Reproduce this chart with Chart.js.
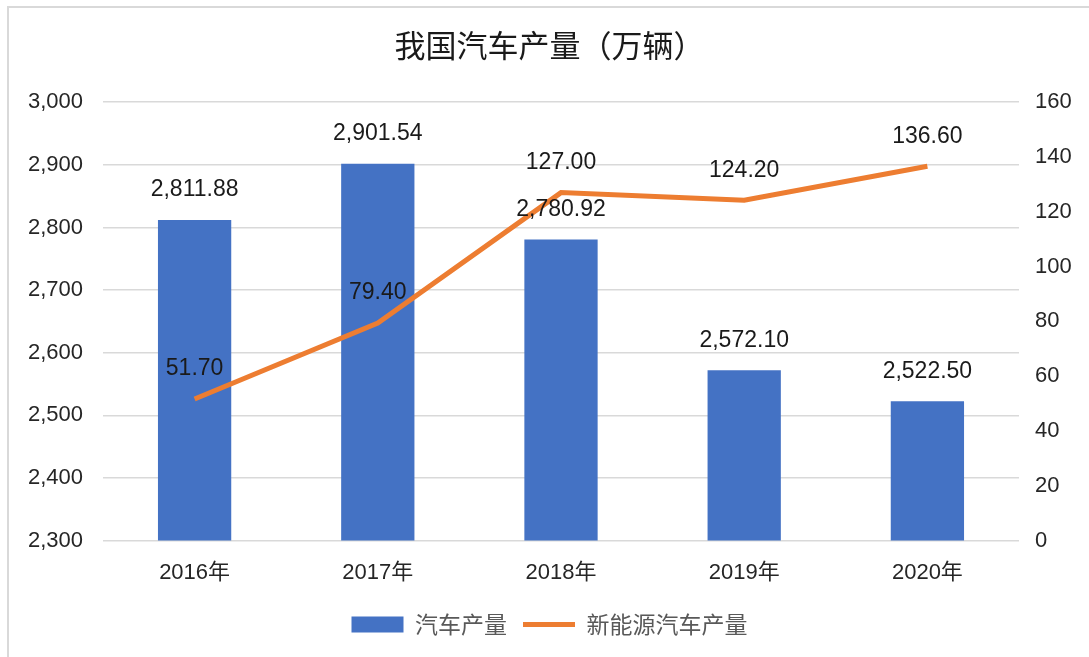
<!DOCTYPE html>
<html>
<head>
<meta charset="utf-8">
<script src="https://cdn.jsdelivr.net/npm/chart.js@4"></script>
<style>
  html, body { margin: 0; padding: 0; background: #fff; }
  #wrap { position: relative; width: 1089px; height: 657px; overflow: hidden; }
  #frame { position: absolute; left: 7px; top: 6px; width: 1100px; height: 700px;
           border-left: 2px solid #d9d9d9; border-top: 2px solid #d9d9d9; }
  canvas { position: absolute; left: 0; top: 0; }
</style>
</head>
<body>
<div id="wrap">
  <div id="frame"></div>
  <canvas id="chartCanvas" width="1089" height="657"></canvas>
</div>
<script>
const years = ['2016年', '2017年', '2018年', '2019年', '2020年'];
const carOutput = [2811.88, 2901.54, 2780.92, 2572.10, 2522.50];
const nevOutput = [51.70, 79.40, 127.00, 124.20, 136.60];
const leftTicks = [2300, 3000, 100];
const rightTicks = [0, 160, 20];

const baseFont = "'Liberation Sans', Arial, 'Noto Sans CJK SC', sans-serif";
const cjkFont = "'Noto Sans CJK SC', 'Liberation Sans', sans-serif";

const fmt = v => v.toLocaleString('en-US', { minimumFractionDigits: 2, maximumFractionDigits: 2 });

// value labels above bars / line points
const valueLabels = {
    id: 'valueLabels',
    afterDatasetsDraw(chart) {
        const ctx = chart.ctx;
        ctx.save();
        ctx.font = '23px ' + baseFont;
        ctx.fillStyle = '#1a1a1a';
        ctx.textAlign = 'center';
        ctx.textBaseline = 'middle';
        chart.data.datasets.forEach((ds, i) => {
            const meta = chart.getDatasetMeta(i);
            meta.data.forEach((el, j) => {
                ctx.fillText(fmt(ds.data[j]), el.x, el.y - 30);
            });
        });
        ctx.restore();
    }
};

const ctx = document.getElementById('chartCanvas').getContext('2d');
new Chart(ctx, {
    data: {
        labels: years,
        datasets: [{
            type: 'bar',
            label: '汽车产量',
            data: carOutput,
            backgroundColor: '#4472C4',
            yAxisID: 'y',
            barPercentage: 0.4,
            categoryPercentage: 1,
            order: 2
        }, {
            type: 'line',
            label: '新能源汽车产量',
            data: nevOutput,
            borderColor: '#ED7D31',
            backgroundColor: '#ED7D31',
            borderWidth: 5,
            pointRadius: 0,
            tension: 0,
            yAxisID: 'y1',
            order: 1
        }]
    },
    options: {
        responsive: false,
        animation: false,
        layout: { padding: { left: 10, right: 0, top: 0, bottom: 11 } },
        plugins: {
            title: {
                display: true,
                text: '我国汽车产量（万辆）',
                color: '#1a1a1a',
                font: { family: cjkFont, size: 31, weight: '400' },
                padding: { top: 27, bottom: 38 }
            },
            legend: {
                position: 'bottom',
                labels: {
                    usePointStyle: true,
                    pointStyleWidth: 52,
                    boxHeight: 16,
                    padding: 16,
                    color: '#595959',
                    font: { family: cjkFont, size: 23 },
                    generateLabels(chart) {
                        const items = Chart.defaults.plugins.legend.labels.generateLabels(chart);
                        items.sort((a, b) => a.datasetIndex - b.datasetIndex);
                        items.forEach(it => {
                            if (it.datasetIndex === 0) {
                                it.pointStyle = 'rect';
                                it.lineWidth = 0;
                            } else {
                                it.pointStyle = 'line';
                                it.strokeStyle = '#ED7D31';
                                it.lineWidth = 5;
                            }
                        });
                        return items;
                    }
                }
            },
            tooltip: { enabled: false }
        },
        scales: {
            x: {
                grid: { display: false },
                border: { display: false },
                ticks: { color: '#262626', font: { family: baseFont, size: 22 }, padding: 11 }
            },
            y: {
                position: 'left',
                min: leftTicks[0],
                max: leftTicks[1],
                ticks: {
                    stepSize: leftTicks[2],
                    color: '#262626',
                    font: { family: baseFont, size: 22 },
                    padding: 20,
                    callback: v => v.toLocaleString('en-US')
                },
                grid: { color: '#d9d9d9', lineWidth: 1.5, drawTicks: false },
                border: { display: false },
                afterFit(s) { s.width = 93; }
            },
            y1: {
                position: 'right',
                min: rightTicks[0],
                max: rightTicks[1],
                ticks: {
                    stepSize: rightTicks[2],
                    color: '#262626',
                    font: { family: baseFont, size: 22 },
                    padding: 16
                },
                grid: { display: false, drawTicks: false },
                border: { display: false },
                afterFit(s) { s.width = 70; }
            }
        }
    },
    plugins: [valueLabels]
});
</script>
</body>
</html>
